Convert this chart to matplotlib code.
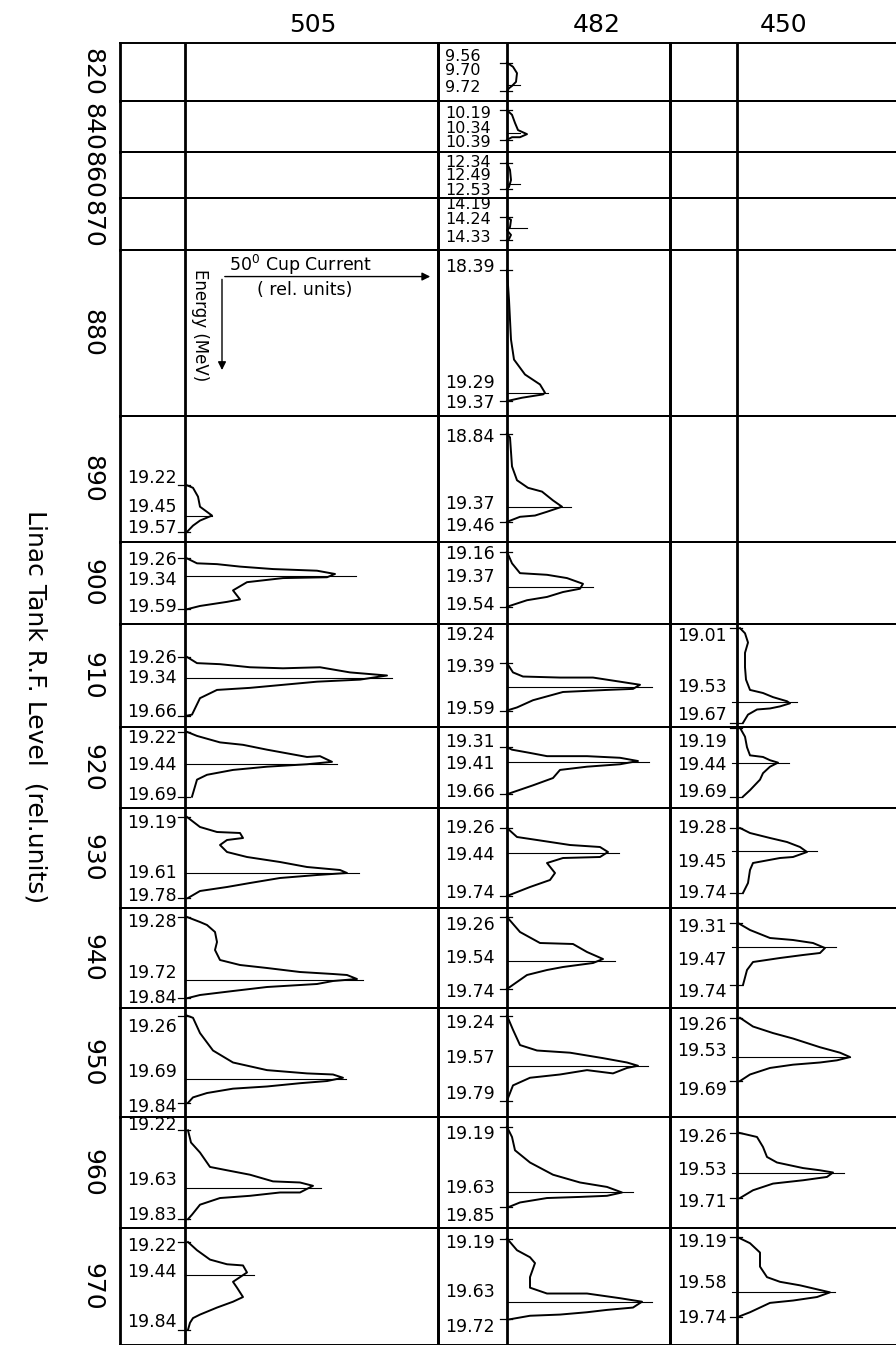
import matplotlib.pyplot as plt

# RF level rows and energy-analyser columns
rf_levels = [820, 840, 860, 870, 880, 890, 900, 910, 920, 930, 940, 950, 960, 970]
group_names = ['505', '482', '450']

# ---- column 505 : energy labels, their depth in the cell, peak marker, trace ----
energy_505 = {
    890: ['19.22', '19.45', '19.57'], 900: ['19.26', '19.34', '19.59'],
    910: ['19.26', '19.34', '19.66'], 920: ['19.22', '19.44', '19.69'],
    930: ['19.19', '19.61', '19.78'], 940: ['19.28', '19.72', '19.84'],
    950: ['19.26', '19.69', '19.84'], 960: ['19.22', '19.63', '19.83'],
    970: ['19.22', '19.44', '19.84'],
}
energy_pos_505 = {
    890: [.49, .72, .89], 900: [.22, .46, .79], 910: [.33, .52, .85],
    920: [.14, .47, .84], 930: [.15, .65, .88], 940: [.14, .65, .90],
    950: [.17, .59, .91], 960: [.07, .57, .88], 970: [.15, .38, .80],
}
peak_505 = {  # (depth, length) of the thin line through the peak
    890: (.79, .27), 900: (.41, 1.71), 910: (.52, 2.07), 920: (.46, 1.52),
    930: (.65, 1.74), 940: (.72, 1.78), 950: (.65, 1.61), 960: (.64, 1.36),
    970: (.40, .69),
}
depth_505 = {
    890: [.55, .57, .64, .72, .79, .83, .87, .92],
    900: [.20, .26, .27, .30, .33, .35, .39, .43, .44, .49, .59, .70, .73, .78, .82],
    910: [.32, .38, .39, .42, .43, .42, .47, .50, .54, .56, .62, .64, .72, .88, .89],
    920: [.06, .11, .19, .22, .28, .37, .36, .43, .46, .49, .53, .59, .65, .86],
    930: [.09, .19, .24, .25, .30, .32, .37, .44, .49, .54, .59, .62, .65, .67, .70, .75, .79, .83, .90],
    940: [.09, .14, .17, .24, .34, .42, .52, .57, .60, .64, .66, .67, .71, .73, .76, .79, .83, .87, .90],
    950: [.07, .09, .23, .39, .50, .57, .60, .61, .64, .67, .69, .72, .74, .78, .82, .87],
    960: [.12, .23, .32, .45, .48, .52, .58, .59, .62, .68, .68, .71, .73, .79, .88, .92],
    970: [.12, .19, .27, .31, .32, .38, .42, .46, .51, .59, .63, .68, .74, .77, .81, .87],
}
current_505 = {
    890: [.02, .08, .13, .15, .27, .15, .08, .02],
    900: [.02, .12, .32, .55, .88, 1.32, 1.50, 1.42, .98, .62, .48, .55, .42, .15, .02],
    910: [.02, .12, .35, .65, .98, 1.35, 1.65, 2.02, 1.75, 1.32, .65, .32, .15, .07, .02],
    920: [.02, .12, .35, .58, .82, 1.22, 1.35, 1.47, 1.22, .82, .48, .22, .12, .07],
    930: [.02, .15, .32, .55, .58, .42, .35, .42, .62, .95, 1.22, 1.55, 1.62, 1.32, .95, .65, .42, .15, .03],
    940: [.02, .15, .22, .30, .32, .30, .35, .55, .82, 1.15, 1.48, 1.62, 1.72, 1.48, 1.32, .82, .48, .15, .03],
    950: [.02, .08, .15, .28, .48, .82, 1.22, 1.48, 1.58, 1.42, 1.15, .82, .48, .22, .08, .03],
    960: [.03, .06, .15, .25, .42, .65, .88, 1.15, 1.28, 1.15, .95, .65, .35, .15, .07, .03],
    970: [.03, .12, .25, .42, .58, .62, .55, .48, .52, .58, .48, .32, .15, .08, .05, .03],
}

# ---- column 482 ----
energy_482 = {
    820: ['9.56', '9.70', '9.72'], 840: ['10.19', '10.34', '10.39'],
    860: ['12.34', '12.49', '12.53'], 870: ['14.19', '14.24', '14.33'],
    880: ['18.39', '19.29', '19.37'], 890: ['18.84', '19.37', '19.46'],
    900: ['19.16', '19.37', '19.54'], 910: ['19.24', '19.39', '19.59'],
    920: ['19.31', '19.41', '19.66'], 930: ['19.26', '19.44', '19.74'],
    940: ['19.26', '19.54', '19.74'], 950: ['19.24', '19.57', '19.79'],
    960: ['19.19', '19.63', '19.85'], 970: ['19.19', '19.63', '19.72'],
}
energy_pos_482 = {
    820: [.24, .48, .76], 840: [.24, .53, .82], 860: [.22, .50, .83],
    870: [.13, .42, .75], 880: [.10, .80, .92], 890: [.17, .70, .87],
    900: [.15, .43, .77], 910: [.11, .42, .83], 920: [.19, .46, .80],
    930: [.20, .47, .85], 940: [.17, .50, .84], 950: [.14, .46, .79],
    960: [.15, .64, .89], 970: [.13, .55, .85],
}
peak_482 = {
    820: (.72, .13), 840: (.63, .13), 860: (.70, .13), 870: (.58, .20),
    880: (.86, .41), 890: (.72, .64), 900: (.55, .86), 910: (.61, 1.45),
    920: (.43, 1.42), 930: (.45, 1.12), 940: (.53, 1.08), 950: (.53, 1.41),
    960: (.68, 1.26), 970: (.63, 1.45),
}
depth_482 = {
    820: [.34, .41, .52, .67, .74, .78, .83],
    840: [.18, .27, .43, .57, .65, .71, .71, .76],
    860: [.24, .39, .61, .76, .80],
    870: [.37, .42, .56, .62, .71, .79, .81],
    880: [.12, .30, .54, .66, .75, .81, .86, .87, .89, .91],
    890: [.14, .17, .40, .51, .57, .60, .67, .72, .76, .79, .80, .84],
    900: [.12, .26, .38, .40, .44, .51, .57, .61, .67, .71, .79],
    910: [.38, .47, .51, .52, .52, .56, .59, .63, .64, .66, .74, .81, .84],
    920: [.25, .28, .32, .36, .36, .38, .42, .46, .49, .53, .63, .72, .83],
    930: [.20, .29, .32, .37, .39, .44, .49, .50, .55, .65, .72, .79, .88],
    940: [.09, .24, .35, .36, .44, .51, .55, .59, .62, .67, .74, .81],
    950: [.07, .20, .34, .39, .41, .46, .50, .53, .55, .60, .57, .61, .64, .71, .85],
    960: [.09, .18, .30, .41, .52, .59, .63, .68, .71, .72, .73, .77, .81],
    970: [.09, .19, .25, .30, .42, .51, .56, .56, .60, .63, .68, .70, .72, .74, .75, .78],
}
current_482 = {
    820: [0, .06, .10, .09, .05, .02, 0],
    840: [0, .05, .08, .11, .20, .13, .05, 0],
    860: [0, .03, .04, .02, 0],
    870: [0, .04, .03, 0, .04, .02, 0],
    880: [0, .02, .04, .07, .18, .33, .38, .36, .15, 0],
    890: [0, .03, .05, .10, .21, .35, .46, .55, .40, .28, .13, 0],
    900: [0, .05, .13, .40, .60, .76, .73, .56, .40, .20, 0],
    910: [0, .06, .16, .53, .86, 1.13, 1.33, 1.26, 1.00, .56, .26, .10, 0],
    920: [0, .05, .23, .40, .80, 1.13, 1.31, 1.13, .80, .53, .46, .26, 0],
    930: [0, .10, .30, .63, .93, 1.01, .93, .56, .40, .48, .43, .23, 0],
    940: [0, .13, .33, .66, .80, .96, .86, .56, .40, .20, .10, 0],
    950: [0, .06, .13, .30, .63, .96, 1.20, 1.31, 1.20, 1.06, .80, .53, .23, .06, 0],
    960: [0, .05, .08, .23, .46, .73, 1.00, 1.15, 1.00, .73, .40, .13, .02],
    970: [0, .10, .23, .28, .23, .23, .40, .80, 1.13, 1.35, 1.26, 1.00, .80, .53, .23, .03],
}

# ---- column 450 ----
energy_450 = {
    910: ['19.01', '19.53', '19.67'], 920: ['19.19', '19.44', '19.69'],
    930: ['19.28', '19.45', '19.74'], 940: ['19.31', '19.47', '19.74'],
    950: ['19.26', '19.53', '19.69'], 960: ['19.26', '19.53', '19.71'],
    970: ['19.19', '19.58', '19.74'],
}
energy_pos_450 = {
    910: [.12, .61, .88], 920: [.19, .47, .80], 930: [.20, .54, .85],
    940: [.19, .52, .84], 950: [.16, .39, .75], 960: [.18, .48, .77],
    970: [.12, .47, .77],
}
peak_450 = {
    910: (.76, .60), 920: (.44, .52), 930: (.43, .80), 940: (.39, .99),
    950: (.45, 1.13), 960: (.50, 1.07), 970: (.55, .98),
}
depth_450 = {
    910: [.04, .09, .18, .28, .42, .54, .64, .67, .71, .75, .77, .80, .82, .83, .88, .96],
    920: [.01, .12, .25, .35, .37, .41, .44, .49, .57, .65, .78, .86],
    930: [.20, .25, .30, .34, .39, .44, .49, .50, .55, .62, .75, .85],
    940: [.15, .22, .30, .32, .35, .40, .45, .47, .50, .54, .62, .77],
    950: [.09, .17, .23, .28, .36, .41, .45, .48, .50, .52, .55, .61, .67],
    960: [.14, .18, .27, .36, .41, .46, .48, .50, .54, .57, .60, .66, .73],
    970: [.08, .13, .21, .33, .42, .46, .49, .53, .55, .59, .62, .64, .72, .76],
}
current_450 = {
    910: [.03, .08, .11, .08, .08, .09, .13, .26, .36, .50, .53, .43, .33, .20, .11, .06],
    920: [.03, .08, .10, .13, .26, .33, .41, .33, .26, .23, .13, .06],
    930: [.03, .13, .33, .50, .63, .70, .56, .43, .16, .13, .11, .06],
    940: [.01, .13, .33, .56, .76, .88, .83, .66, .43, .16, .10, .06],
    950: [.03, .16, .36, .56, .83, 1.03, 1.13, 1.00, .83, .56, .33, .13, .03],
    960: [.01, .20, .26, .30, .40, .66, .83, .96, .90, .66, .36, .16, .03],
    970: [.01, .13, .23, .23, .30, .43, .63, .83, .93, .80, .56, .33, .13, .01],
}

groups = [
    (energy_505, energy_pos_505, peak_505, depth_505, current_505),
    (energy_482, energy_pos_482, peak_482, depth_482, current_482),
    (energy_450, energy_pos_450, peak_450, depth_450, current_450),
]

# --- layout (pixels of the 896x1345 page) ---
W, H = 896, 1345
col_edges = [(120, 185, 438), (438, 507, 670), (670, 737, 896)]  # left, axis, right
row_edges = [43, 101, 152, 198, 250, 416, 542, 624, 727, 808, 908, 1008, 1117, 1228, 1345]
UNIT = 100.0  # px per rel. current unit
peak_start = [0.0, 0.0, -0.05]

plt.rcParams['font.family'] = ['DejaVu Sans']
fig = plt.figure(figsize=(W / 100, H / 100), dpi=100)

for gi, (left, axis_x, right) in enumerate(col_edges):
    energy, energy_pos, peaks, depths, currents = groups[gi]
    for ri, rf in enumerate(rf_levels):
        top, bot = row_edges[ri], row_edges[ri + 1]
        ax = fig.add_axes([left / W, 1 - bot / H, (right - left) / W, (bot - top) / H])
        x0, x1 = (left - axis_x) / UNIT, (right - axis_x) / UNIT
        ax.set_xlim(x0, x1)
        ax.set_ylim(1, 0)
        ax.set_xticks([])
        ax.set_yticks([])
        ax.patch.set_alpha(0)
        for side in ['left', 'right']:
            ax.spines[side].set_linewidth(2.0)
        for side in ['top', 'bottom']:
            ax.spines[side].set_linewidth(1.4)
        if gi == 2:
            ax.spines['right'].set_visible(False)
        ax.axvline(0, color='black', lw=2.0)

        if rf in energy:
            small = rf < 880
            for lab, pos in zip(energy[rf], energy_pos[rf]):
                ax.text(x0 + 0.07, pos, lab, ha='left', va='center',
                        fontsize=11.5 if small else 12.5, color='black')
        if rf in depths:
            d, c = depths[rf], currents[rf]
            ax.plot(c, d, color='black', lw=1.4, solid_joinstyle='round')
            for dd in (d[0], d[-1]):
                ax.plot([-0.07, 0.05], [dd, dd], color='black', lw=0.9)
            py, plen = peaks[rf]
            ax.plot([peak_start[gi], plen], [py, py], color='black', lw=0.8)

        # axis legend inside the empty 505 / 880 cell
        if gi == 0 and rf == 880:
            ax.annotate('', xy=(2.48, 0.16), xytext=(0.37, 0.16),
                        arrowprops=dict(arrowstyle='-|>', color='black', lw=1.0,
                                        mutation_scale=12))
            ax.annotate('', xy=(0.37, 0.74), xytext=(0.37, 0.16),
                        arrowprops=dict(arrowstyle='-|>', color='black', lw=1.0,
                                        mutation_scale=12))
            ax.text(1.16, 0.09, '50$^{0}$ Cup Current', ha='center', va='center', fontsize=12.5)
            ax.text(1.20, 0.24, '( rel. units)', ha='center', va='center', fontsize=12.5)
            ax.text(0.15, 0.45, 'Energy (MeV)', ha='center', va='center',
                    rotation=270, fontsize=12)

# column headers
for name, x in zip(group_names, [313, 597, 784]):
    fig.text(x / W, 1 - 25 / H, name, ha='center', va='center', fontsize=18)

# RF level labels (rotated)
for ri, rf in enumerate(rf_levels):
    yc = (row_edges[ri] + row_edges[ri + 1]) / 2
    fig.text(92 / W, 1 - yc / H, str(rf), ha='center', va='center',
             rotation=270, fontsize=18)

fig.text(35 / W, 1 - 707 / H, 'Linac Tank R.F. Level  (rel.units)', ha='center',
         va='center', rotation=270, fontsize=18)

fig.savefig('out.png', dpi=100)
